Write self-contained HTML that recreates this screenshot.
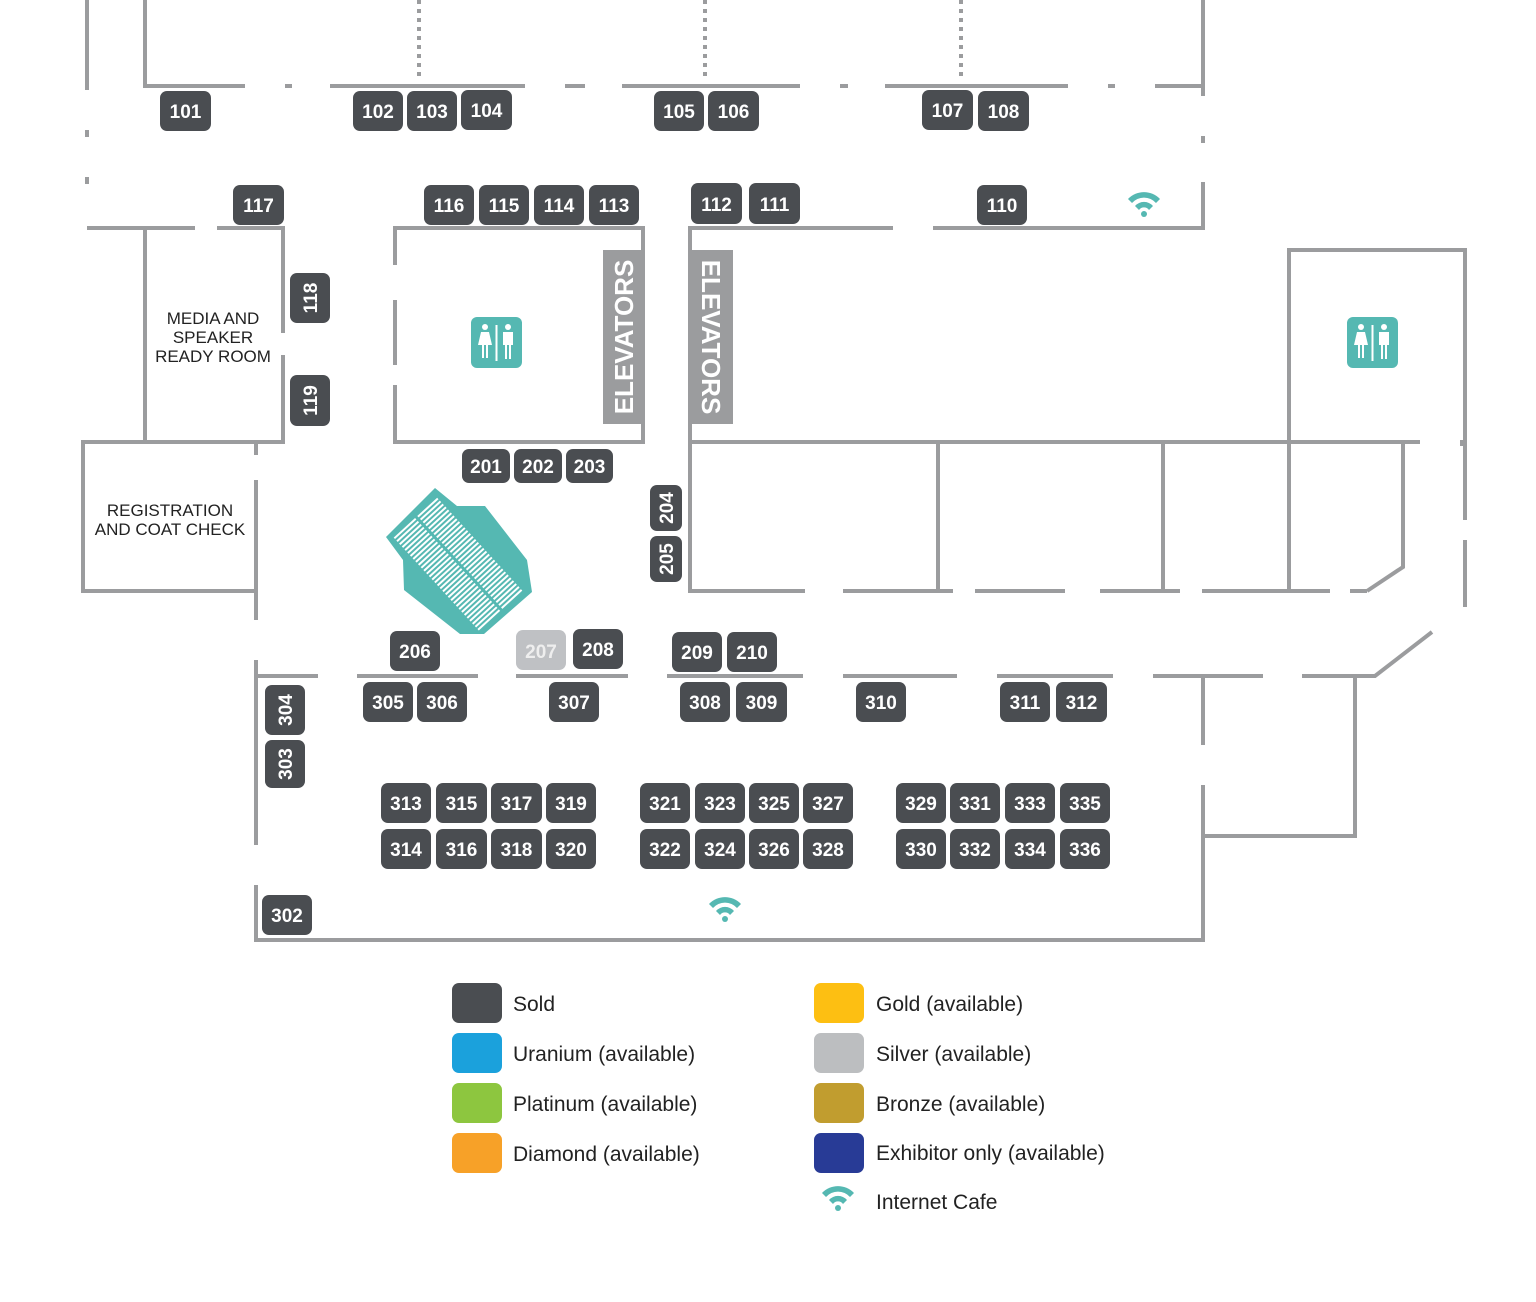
<!DOCTYPE html>
<html><head><meta charset="utf-8"><style>
html,body{margin:0;padding:0;background:#fff;}
svg{display:block;}
.w{stroke:#9b9c9e;stroke-width:4;fill:none;}
.d{stroke:#9b9c9e;stroke-width:4;stroke-dasharray:4 5;fill:none;}
.b{fill:#4a4d51;}
.t{fill:#fff;font-family:"Liberation Sans",sans-serif;font-weight:bold;font-size:19px;text-anchor:middle;}
.l{fill:#222;font-family:"Liberation Sans",sans-serif;font-size:17px;text-anchor:middle;}
.lg{fill:#222;font-family:"Liberation Sans",sans-serif;font-size:21px;}
</style></head><body>
<svg width="1536" height="1302" viewBox="0 0 1536 1302" xmlns="http://www.w3.org/2000/svg">
<defs>
<g id="wifi"><path d="M-16,-4 A22,22 0 0 1 16,-4 L12,0 A16,16 0 0 0 -12,0 Z" fill="#55b8b2"/><path d="M-9,3 A12,12 0 0 1 9,3 L5,7 A6,6 0 0 0 -5,7 Z" fill="#55b8b2"/><circle cx="0" cy="11" r="3" fill="#55b8b2"/></g>
<g id="wc"><rect x="0" y="0" width="51" height="51" rx="6" fill="#55b8b2"/>
<circle cx="14" cy="10" r="3" fill="#fff"/><path d="M10,15 h8 l3,13 h-4 v13 h-2 v-13 h-2 v13 h-2 v-13 h-4 z" fill="#fff"/>
<rect x="24.5" y="8" width="2" height="36" fill="#fff"/>
<circle cx="37" cy="10" r="3" fill="#fff"/><path d="M32,15 h10 v13 h-2 v14 h-2 v-14 h-2 v14 h-2 v-14 h-2 z" fill="#fff"/></g>
</defs>

<!-- top walls -->
<path class="w" d="M87,0 V90 M87,130 V137 M87,177 V184 M87,228 H195 M217,228 H283 V333 M283,355 V442 H83 V591 H256 M256,442 V455 M256,480 V620 M256,660 V845 M256,885 V940 H1203 V785 M1203,745 V676"/>
<path class="w" d="M145,0 V86 H245 M285,86 H292 M330,86 H525 M565,86 H585 M622,86 H800 M840,86 H848 M885,86 H1068 M1108,86 H1115 M1155,86 H1203 V0 M1203,96 V86 M1203,136 V143 M1203,182 V228 H933 M893,228 H690 V591 M145,228 V442"/>
<path class="d" d="M419,0 V80 M705,0 V80 M961,0 V80"/>
<path class="w" d="M395,265 V228 H643 V442 H395 V385 M395,300 V365"/>
<!-- right area -->
<path class="w" d="M688,442 H1420 M938,442 V591 M1163,442 V591 M1289,591 V250 H1465 V520 M1465,540 V607 M1403,442 V567 L1367,591 M1462,440 V446"/>
<path class="w" d="M688,591 H805 M843,591 H953 M975,591 H1065 M1100,591 H1180 M1202,591 H1330 M1350,591 H1367"/>
<path class="w" d="M256,676 H318 M357,676 H478 M516,676 H628 M667,676 H803 M843,676 H957 M997,676 H1113 M1153,676 H1263 M1302,676 H1375 L1432,632 M1355,676 V836 H1203"/>

<!-- elevators -->
<rect x="603" y="250" width="40" height="174" fill="#9b9c9e"/>
<text x="0" y="0" transform="translate(633,337) rotate(-90)" fill="#fff" font-family="Liberation Sans,sans-serif" font-weight="bold" font-size="26" text-anchor="middle">ELEVATORS</text>
<rect x="690" y="250" width="43" height="174" fill="#9b9c9e"/>
<text x="0" y="0" transform="translate(702,337) rotate(90)" fill="#fff" font-family="Liberation Sans,sans-serif" font-weight="bold" font-size="26" text-anchor="middle">ELEVATORS</text>

<use href="#wc" x="471" y="317"/>
<use href="#wc" x="1347" y="317"/>
<use href="#wifi" x="1144" y="203"/>
<use href="#wifi" x="725" y="908"/>

<text class="l"><tspan x="213" y="324">MEDIA AND</tspan><tspan x="213" y="343">SPEAKER</tspan><tspan x="213" y="362">READY ROOM</tspan></text>
<text class="l"><tspan x="170" y="516">REGISTRATION</tspan><tspan x="170" y="535">AND COAT CHECK</tspan></text>

<!-- stage -->
<polygon points="435,488 457,506 485,506 527,560 532,592 484,634 460,634 404,590 403,560 386,537" fill="#55b8b2"/>
<g transform="translate(436,492) rotate(47.5)">
<g stroke="#fff" stroke-width="2">
<path d="M6,3 V30 M10,3 V30 M14,3 V30 M18,3 V30 M22,3 V30 M26,3 V30 M30,3 V30 M34,3 V30 M38,3 V30 M42,3 V30 M46,3 V30 M50,3 V30 M54,3 V30 M58,3 V30 M62,3 V30 M66,3 V30 M70,3 V30 M74,3 V30 M78,3 V30 M82,3 V30 M86,3 V30 M90,3 V30 M94,3 V30 M98,3 V30 M102,3 V30 M106,3 V30 M110,3 V30 M114,3 V30 M118,3 V30 M122,3 V30 M126,3 V30 M130,3 V30"/>
<path d="M6,33 V62 M10,33 V62 M14,33 V62 M18,33 V62 M22,33 V62 M26,33 V62 M30,33 V62 M34,33 V62 M38,33 V62 M42,33 V62 M46,33 V62 M50,33 V62 M54,33 V62 M58,33 V62 M62,33 V62 M66,33 V62 M70,33 V62 M74,33 V62 M78,33 V62 M82,33 V62 M86,33 V62 M90,33 V62 M94,33 V62 M98,33 V62 M102,33 V62 M106,33 V62 M110,33 V62 M114,33 V62 M118,33 V62 M122,33 V62 M126,33 V62 M130,33 V62"/>
</g></g>

<!-- booths horizontal -->
<g>
<rect class="b" x="160" y="91" width="51" height="40" rx="7"/><text class="t" x="185.5" y="118">101</text>
<rect class="b" x="353" y="91" width="50" height="40" rx="7"/><text class="t" x="378" y="118">102</text>
<rect class="b" x="407" y="91" width="50" height="40" rx="7"/><text class="t" x="432" y="118">103</text>
<rect class="b" x="461" y="90" width="51" height="40" rx="7"/><text class="t" x="486.5" y="117">104</text>
<rect class="b" x="654" y="91" width="50" height="40" rx="7"/><text class="t" x="679" y="118">105</text>
<rect class="b" x="708" y="91" width="51" height="40" rx="7"/><text class="t" x="733.5" y="118">106</text>
<rect class="b" x="922" y="90" width="51" height="40" rx="7"/><text class="t" x="947.5" y="117">107</text>
<rect class="b" x="978" y="91" width="51" height="40" rx="7"/><text class="t" x="1003.5" y="118">108</text>
<rect class="b" x="233" y="185" width="51" height="40" rx="7"/><text class="t" x="258.5" y="212">117</text>
<rect class="b" x="424" y="185" width="50" height="40" rx="7"/><text class="t" x="449" y="212">116</text>
<rect class="b" x="479" y="185" width="50" height="40" rx="7"/><text class="t" x="504" y="212">115</text>
<rect class="b" x="534" y="185" width="50" height="40" rx="7"/><text class="t" x="559" y="212">114</text>
<rect class="b" x="589" y="185" width="50" height="40" rx="7"/><text class="t" x="614" y="212">113</text>
<rect class="b" x="691" y="183" width="51" height="41" rx="7"/><text class="t" x="716.5" y="211">112</text>
<rect class="b" x="749" y="183" width="51" height="41" rx="7"/><text class="t" x="774.5" y="211">111</text>
<rect class="b" x="977" y="185" width="50" height="40" rx="7"/><text class="t" x="1002" y="212">110</text>
<rect class="b" x="462" y="449" width="48" height="34" rx="7"/><text class="t" x="486" y="473">201</text>
<rect class="b" x="514" y="449" width="48" height="34" rx="7"/><text class="t" x="538" y="473">202</text>
<rect class="b" x="566" y="449" width="47" height="34" rx="7"/><text class="t" x="589.5" y="473">203</text>
<rect class="b" x="390" y="631" width="50" height="40" rx="7"/><text class="t" x="415" y="658">206</text>
<rect x="516" y="630" width="50" height="40" rx="7" fill="#bfc1c4"/><text class="t" x="541" y="658" style="fill:#eee">207</text>
<rect class="b" x="573" y="629" width="50" height="40" rx="7"/><text class="t" x="598" y="656">208</text>
<rect class="b" x="672" y="632" width="50" height="40" rx="7"/><text class="t" x="697" y="659">209</text>
<rect class="b" x="727" y="632" width="50" height="40" rx="7"/><text class="t" x="752" y="659">210</text>
<rect class="b" x="363" y="682" width="50" height="40" rx="7"/><text class="t" x="388" y="709">305</text>
<rect class="b" x="417" y="682" width="50" height="40" rx="7"/><text class="t" x="442" y="709">306</text>
<rect class="b" x="549" y="682" width="50" height="40" rx="7"/><text class="t" x="574" y="709">307</text>
<rect class="b" x="680" y="682" width="50" height="40" rx="7"/><text class="t" x="705" y="709">308</text>
<rect class="b" x="736" y="682" width="51" height="40" rx="7"/><text class="t" x="761.5" y="709">309</text>
<rect class="b" x="856" y="682" width="50" height="40" rx="7"/><text class="t" x="881" y="709">310</text>
<rect class="b" x="1000" y="682" width="50" height="40" rx="7"/><text class="t" x="1025" y="709">311</text>
<rect class="b" x="1056" y="682" width="51" height="40" rx="7"/><text class="t" x="1081.5" y="709">312</text>
<rect class="b" x="262" y="895" width="50" height="40" rx="7"/><text class="t" x="287" y="922">302</text>
</g>
<!-- grid -->
<g>
<rect class="b" x="381" y="783" width="50" height="40" rx="7"/><text class="t" x="406" y="810">313</text>
<rect class="b" x="436" y="783" width="51" height="40" rx="7"/><text class="t" x="461.5" y="810">315</text>
<rect class="b" x="491" y="783" width="51" height="40" rx="7"/><text class="t" x="516.5" y="810">317</text>
<rect class="b" x="546" y="783" width="50" height="40" rx="7"/><text class="t" x="571" y="810">319</text>
<rect class="b" x="640" y="783" width="50" height="40" rx="7"/><text class="t" x="665" y="810">321</text>
<rect class="b" x="695" y="783" width="50" height="40" rx="7"/><text class="t" x="720" y="810">323</text>
<rect class="b" x="749" y="783" width="50" height="40" rx="7"/><text class="t" x="774" y="810">325</text>
<rect class="b" x="803" y="783" width="50" height="40" rx="7"/><text class="t" x="828" y="810">327</text>
<rect class="b" x="896" y="783" width="50" height="40" rx="7"/><text class="t" x="921" y="810">329</text>
<rect class="b" x="950" y="783" width="50" height="40" rx="7"/><text class="t" x="975" y="810">331</text>
<rect class="b" x="1005" y="783" width="50" height="40" rx="7"/><text class="t" x="1030" y="810">333</text>
<rect class="b" x="1060" y="783" width="50" height="40" rx="7"/><text class="t" x="1085" y="810">335</text>
<rect class="b" x="381" y="829" width="50" height="40" rx="7"/><text class="t" x="406" y="856">314</text>
<rect class="b" x="436" y="829" width="51" height="40" rx="7"/><text class="t" x="461.5" y="856">316</text>
<rect class="b" x="491" y="829" width="51" height="40" rx="7"/><text class="t" x="516.5" y="856">318</text>
<rect class="b" x="546" y="829" width="50" height="40" rx="7"/><text class="t" x="571" y="856">320</text>
<rect class="b" x="640" y="829" width="50" height="40" rx="7"/><text class="t" x="665" y="856">322</text>
<rect class="b" x="695" y="829" width="50" height="40" rx="7"/><text class="t" x="720" y="856">324</text>
<rect class="b" x="749" y="829" width="50" height="40" rx="7"/><text class="t" x="774" y="856">326</text>
<rect class="b" x="803" y="829" width="50" height="40" rx="7"/><text class="t" x="828" y="856">328</text>
<rect class="b" x="896" y="829" width="50" height="40" rx="7"/><text class="t" x="921" y="856">330</text>
<rect class="b" x="950" y="829" width="50" height="40" rx="7"/><text class="t" x="975" y="856">332</text>
<rect class="b" x="1005" y="829" width="50" height="40" rx="7"/><text class="t" x="1030" y="856">334</text>
<rect class="b" x="1060" y="829" width="50" height="40" rx="7"/><text class="t" x="1085" y="856">336</text>
</g>
<!-- vertical booths -->
<g>
<rect class="b" x="290" y="273" width="40" height="50" rx="7"/><text class="t" transform="translate(317,298) rotate(-90)">118</text>
<rect class="b" x="290" y="375" width="40" height="51" rx="7"/><text class="t" transform="translate(317,400.5) rotate(-90)">119</text>
<rect class="b" x="650" y="485" width="32" height="46" rx="7"/><text class="t" transform="translate(673,508) rotate(-90)">204</text>
<rect class="b" x="650" y="536" width="32" height="46" rx="7"/><text class="t" transform="translate(673,559) rotate(-90)">205</text>
<rect class="b" x="265" y="685" width="40" height="50" rx="7"/><text class="t" transform="translate(292,710) rotate(-90)">304</text>
<rect class="b" x="265" y="740" width="40" height="48" rx="7"/><text class="t" transform="translate(292,764) rotate(-90)">303</text>
</g>

<!-- legend -->
<g>
<rect x="452" y="983" width="50" height="40" rx="7" fill="#4a4d51"/><text class="lg" x="513" y="1011">Sold</text>
<rect x="452" y="1033" width="50" height="40" rx="7" fill="#1ba1dc"/><text class="lg" x="513" y="1061">Uranium (available)</text>
<rect x="452" y="1083" width="50" height="40" rx="7" fill="#8dc63f"/><text class="lg" x="513" y="1111">Platinum (available)</text>
<rect x="452" y="1133" width="50" height="40" rx="7" fill="#f7a128"/><text class="lg" x="513" y="1161">Diamond (available)</text>
<rect x="814" y="983" width="50" height="40" rx="7" fill="#fdbf12"/><text class="lg" x="876" y="1011">Gold (available)</text>
<rect x="814" y="1033" width="50" height="40" rx="7" fill="#bcbec0"/><text class="lg" x="876" y="1061">Silver (available)</text>
<rect x="814" y="1083" width="50" height="40" rx="7" fill="#c19d2f"/><text class="lg" x="876" y="1111">Bronze (available)</text>
<rect x="814" y="1133" width="50" height="40" rx="7" fill="#283b96"/><text class="lg" x="876" y="1160">Exhibitor only (available)</text>
<use href="#wifi" x="838" y="1197"/><text class="lg" x="876" y="1209">Internet Cafe</text>
</g>
</svg>
</body></html>
